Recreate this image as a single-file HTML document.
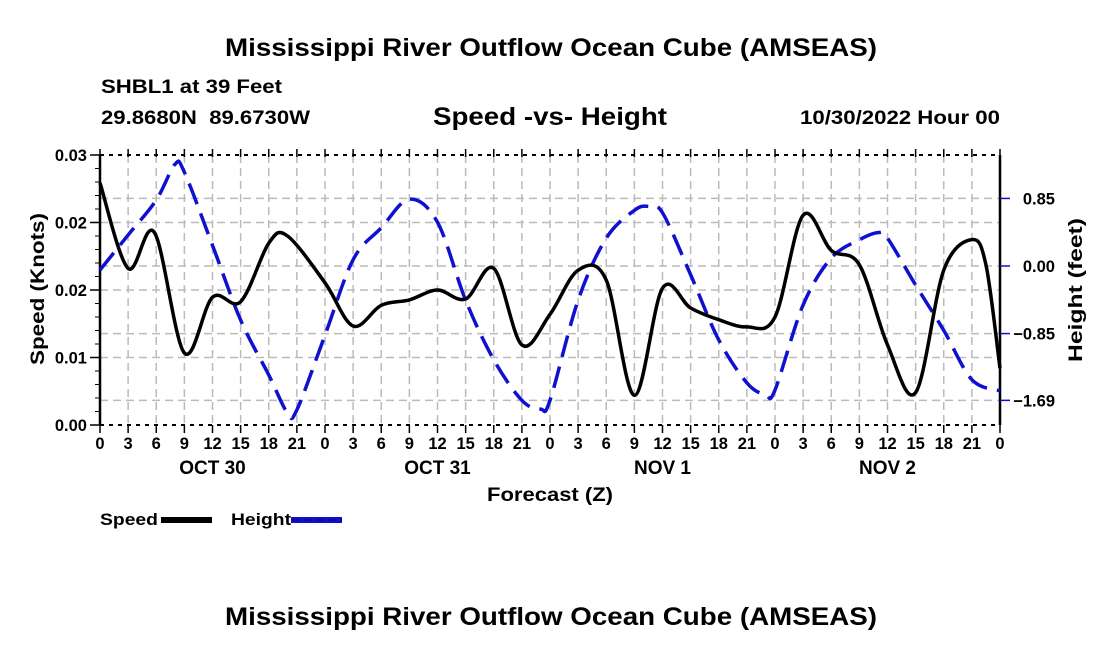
<!DOCTYPE html>
<html><head><meta charset="utf-8"><style>
body{margin:0;background:#fff}
svg{font-family:"Liberation Sans",sans-serif;font-weight:bold}
</style></head><body>
<svg id="c" width="1100" height="650" viewBox="0 0 1100 650">
<text x="225" y="56" font-size="25" textLength="652" lengthAdjust="spacingAndGlyphs">Mississippi River Outflow Ocean Cube (AMSEAS)</text>
<text x="101" y="93" font-size="19" textLength="181" lengthAdjust="spacingAndGlyphs">SHBL1 at 39 Feet</text>
<text x="101" y="124" font-size="19" textLength="209" lengthAdjust="spacingAndGlyphs" xml:space="preserve">29.8680N  89.6730W</text>
<text x="433" y="125" font-size="25" textLength="234" lengthAdjust="spacingAndGlyphs">Speed -vs- Height</text>
<text x="800" y="124" font-size="19" textLength="200" lengthAdjust="spacingAndGlyphs">10/30/2022 Hour 00</text>
<text x="225" y="625" font-size="25" textLength="652" lengthAdjust="spacingAndGlyphs">Mississippi River Outflow Ocean Cube (AMSEAS)</text>
<g id="grid"></g>
<g id="axes"></g>
<g id="series"></g>
<text x="487" y="501" font-size="19" textLength="126" lengthAdjust="spacingAndGlyphs">Forecast (Z)</text>
<text transform="translate(44,289) rotate(-90)" font-size="19" text-anchor="middle" textLength="152" lengthAdjust="spacingAndGlyphs">Speed (Knots)</text>
<text transform="translate(1082,290) rotate(-90)" font-size="19" text-anchor="middle" textLength="144" lengthAdjust="spacingAndGlyphs">Height (feet)</text>
<g>
<text x="100" y="525" font-size="17" textLength="58" lengthAdjust="spacingAndGlyphs">Speed</text>
<rect x="161" y="517" width="51" height="6" fill="#000"/></g>
<g>
<text x="231" y="525" font-size="17" textLength="60" lengthAdjust="spacingAndGlyphs">Height</text>
<rect x="291" y="517" width="51" height="6" fill="#1010c8"/>
<line x1="292" y1="520" x2="342" y2="520" stroke="#000" stroke-width="1" stroke-dasharray="7,5" opacity="0.5"/></g>
</svg>
<script>
const speedHours=[0,3,5.8,9,12,15,18,20,24,27,30,33,36,39,42,45,48,51,54,57,60,63,66,69,72,75,78,81,84,87,90,93,94.5,96];
const speedVals=[0.0269,0.0174,0.0214,0.0080,0.0142,0.0137,0.0202,0.0210,0.0158,0.0110,0.0133,0.0139,0.0150,0.0140,0.0174,0.0089,0.0123,0.0172,0.0161,0.0033,0.0152,0.0130,0.0117,0.0109,0.0120,0.0233,0.0194,0.0178,0.0089,0.0036,0.0172,0.0206,0.0178,0.0063];
const heightHours=[0,3,6,8,9,12,15,18,20,21,24,27,30,33,36,39,42,45,47,48,51,54,57,58.5,60,63,66,69,71,72,75,78,81,83,84,87,90,93,96];
const heightVals=[-0.05,0.39,0.83,1.28,1.18,0.26,-0.68,-1.37,-1.85,-1.81,-0.87,0.08,0.48,0.84,0.55,-0.43,-1.18,-1.69,-1.80,-1.69,-0.43,0.35,0.70,0.75,0.67,-0.11,-0.93,-1.47,-1.62,-1.56,-0.49,0.10,0.33,0.42,0.35,-0.24,-0.81,-1.43,-1.57];
const leftTicks=[0,0.0075,0.015,0.0225,0.03];
const leftLabels=["0.00","0.01","0.02","0.02","0.03"];
const rightTicks=[0.85,0,-0.85,-1.69];
const rightLabels=["0.85","0.00","\u22120.85","\u22121.69"];
const dayLabels=["OCT 30","OCT 31","NOV 1","NOV 2"];
const X0=100,X1=1000,Y0=425,Y1=155;
const xs=h=>X0+(X1-X0)*h/96;
const ys=v=>Y0-(Y0-Y1)*v/0.03;
const yh=v=>266-v*79.5;
const NS="http://www.w3.org/2000/svg";
function mk(t,a,p){const e=document.createElementNS(NS,t);for(const k in a)e.setAttribute(k,a[k]);p.appendChild(e);return e;}
const grid=document.getElementById('grid'),axes=document.getElementById('axes'),ser=document.getElementById('series');
for(let h=3;h<96;h+=3){const l=mk('line',{x1:xs(h),x2:xs(h),y1:Y1,y2:Y0,stroke:'#bbb','stroke-width':1.5,'stroke-dasharray':'8,5'},grid);

}
leftTicks.slice(1,-1).forEach(v=>{const l=mk('line',{x1:X0,x2:X1,y1:ys(v),y2:ys(v),stroke:'#bbb','stroke-width':1.5,'stroke-dasharray':'8,5'},grid);

});
rightTicks.forEach(v=>{const l=mk('line',{x1:X0,x2:X1,y1:yh(v),y2:yh(v),stroke:'#bbb','stroke-width':1.5,'stroke-dasharray':'8,5'},grid);

});
mk('line',{x1:X0,x2:X0,y1:Y1,y2:Y0,stroke:'#000','stroke-width':2.5},axes);
mk('line',{x1:X1,x2:X1,y1:Y1,y2:Y0,stroke:'#000','stroke-width':2.5},axes);
mk('line',{x1:X0,x2:X1,y1:Y0,y2:Y0,stroke:'#000','stroke-width':2,'stroke-dasharray':'4,5'},axes);
mk('line',{x1:X0,x2:X1,y1:Y1,y2:Y1,stroke:'#000','stroke-width':2,'stroke-dasharray':'4,5'},axes);
for(let h=0;h<=96;h+=3){const k=h%24;
mk('line',{x1:xs(h),x2:xs(h),y1:Y0,y2:Y0+8,stroke:'#000','stroke-width':1.5},axes);
mk('line',{x1:xs(h),x2:xs(h),y1:Y1-6,y2:Y1+2,stroke:'#000','stroke-width':1.5},axes);
const t=mk('text',{x:xs(h),y:449,'font-size':16.5,'text-anchor':'middle'},axes);t.textContent=k;

}
dayLabels.forEach((d,i)=>{const t=mk('text',{x:xs(i*24+12),y:474,'font-size':19,'text-anchor':'middle'},axes);t.textContent=d;

});
leftTicks.forEach((v,i)=>{mk('line',{x1:X0-10,x2:X0,y1:ys(v),y2:ys(v),stroke:'#000','stroke-width':1.5},axes);
const t=mk('text',{x:X0-13,y:ys(v)+6,'font-size':16.5,'text-anchor':'end'},axes);t.textContent=leftLabels[i];

});
for(let i=0;i<20;i++){const v=i*0.0015;mk('line',{x1:X0-5,x2:X0,y1:ys(v),y2:ys(v),stroke:'#000','stroke-width':1},axes);}
rightTicks.forEach((v,i)=>{mk('line',{x1:X1,x2:X1+10,y1:yh(v),y2:yh(v),stroke:'#1010c8','stroke-width':1.5},axes);
const t=mk('text',{x:1055,y:yh(v)+6,'font-size':16.5,'text-anchor':'end'},axes);t.textContent=rightLabels[i];

});
function path(hs,vs,fy){const p=hs.map((h,i)=>[xs(h),fy(vs[i])]);let d='M'+p[0][0]+','+p[0][1];
for(let i=0;i<p.length-1;i++){const a=p[i-1]||p[i],b=p[i],c=p[i+1],e=p[i+2]||c;
d+=' C'+(b[0]+(c[0]-a[0])/6)+','+(b[1]+(c[1]-a[1])/6)+' '+(c[0]-(e[0]-b[0])/6)+','+(c[1]-(e[1]-b[1])/6)+' '+c[0]+','+c[1];}return d;}
const hp=mk('path',{d:path(heightHours,heightVals,yh),fill:'none',stroke:'#1010d0','stroke-width':3.5,'stroke-dasharray':'22,10'},ser);


const sp=mk('path',{d:path(speedHours,speedVals,ys),fill:'none',stroke:'#000','stroke-width':3.5},ser);


</script>
</body></html>
